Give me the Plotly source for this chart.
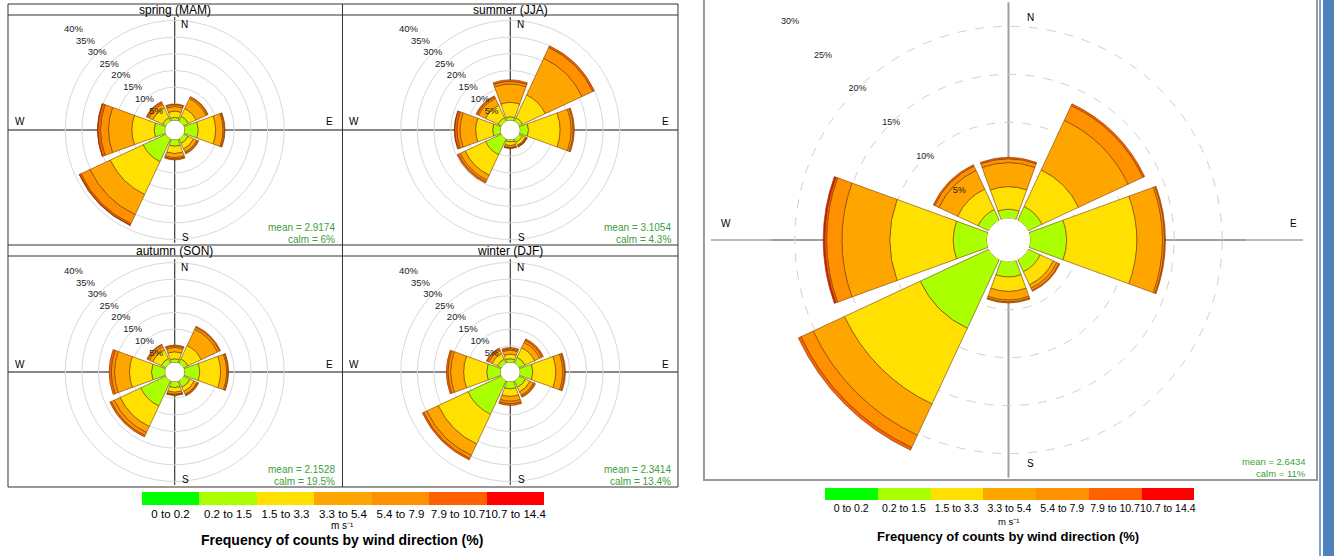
import plotly.graph_objects as go

W, H = 1336, 556

# ---------------- data ----------------
directions = ["N", "NE", "E", "SE", "S", "SW", "W", "NW"]
direction_deg = [0, 45, 90, 135, 180, 225, 270, 315]
speed_bins = ["0 to 0.2", "0.2 to 1.5", "1.5 to 3.3", "3.3 to 5.4",
              "5.4 to 7.9", "7.9 to 10.7", "10.7 to 14.4"]
bin_colors = ["#00FF00", "#AAFF00", "#FFE000", "#FFA500",
              "#FF9000", "#FF6000", "#FF0000"]

# frequency (%) per speed bin (rows) and direction (columns N..NW)
spring_freq = [
    [0, 0, 0, 0, 0, 0, 0, 0],
    [0.9, 1.7, 4.2, 1.6, 2.0, 7.6, 3.3, 1.2],
    [1.9, 2.5, 5.2, 1.8, 2.2, 10.9, 6.7, 3.2],
    [1.4, 3.3, 2.2, 1.0, 1.2, 6.7, 7.0, 1.3],
    [0.5, 0.5, 0.4, 0.4, 0.4, 3.0, 2.4, 0.5],
    [0.2, 0.2, 0.2, 0.2, 0.3, 0.5, 0.8, 0.35],
    [0, 0, 0, 0, 0, 0.1, 0.1, 0],
]
summer_freq = [
    [0, 0, 0, 0, 0, 0, 0, 0],
    [1.1, 1.2, 2.6, 1.2, 0.7, 5.3, 2.4, 1.2],
    [4.3, 7.55, 9.5, 1.0, 1.1, 6.8, 5.1, 4.1],
    [5.5, 12.15, 3.3, 0.3, 0.6, 1.6, 4.7, 2.3],
    [0.8, 3.6, 0.6, 0.2, 0.2, 0.6, 0.9, 0.5],
    [0.5, 0.5, 0.35, 0.1, 0.1, 0.4, 0.7, 0.35],
    [0, 0, 0, 0, 0, 0, 0.1, 0],
]
autumn_freq = [
    [0, 0, 0, 0, 0, 0, 0, 0],
    [1.1, 1.5, 4.6, 2.2, 1.8, 8.4, 4.1, 1.6],
    [2.1, 4.4, 6.3, 1.4, 1.4, 6.8, 6.6, 2.8],
    [1.25, 5.4, 1.8, 0.9, 0.6, 2.0, 4.5, 1.1],
    [0.45, 0.7, 0.4, 0.3, 0.25, 1.0, 0.95, 0.6],
    [0.3, 0.3, 0.2, 0.2, 0.2, 0.45, 0.65, 0.25],
    [0, 0, 0, 0, 0, 0, 0, 0],
]
winter_freq = [
    [0, 0, 0, 0, 0, 0, 0, 0],
    [1.1, 2.0, 3.9, 2.2, 2.2, 11.15, 4.2, 1.4],
    [1.4, 3.2, 6.9, 1.5, 2.25, 9.85, 6.9, 1.8],
    [1.2, 1.7, 2.1, 1.1, 1.45, 3.8, 3.9, 1.0],
    [0.4, 0.7, 0.5, 0.4, 0.7, 1.0, 0.8, 0.5],
    [0.35, 0.5, 0.3, 0.3, 0.55, 0.45, 0.5, 0.3],
    [0, 0, 0, 0, 0, 0, 0, 0],
]
annual_freq = [
    [0, 0, 0, 0, 0, 0, 0, 0],
    [0.95, 1.6, 3.8, 1.4, 1.6, 7.9, 3.5, 1.25],
    [2.35, 4.2, 7.3, 1.5, 1.5, 8.7, 6.6, 2.35],
    [2.5, 5.7, 2.7, 0.4, 0.9, 3.6, 5.0, 2.15],
    [0.4, 1.7, 0.2, 0.25, 0.2, 1.4, 1.6, 0.5],
    [0.15, 0.2, 0.1, 0.1, 0.1, 0.3, 0.2, 0.15],
    [0, 0, 0, 0, 0, 0, 0.15, 0],
]

season_titles = ["spring (MAM)", "summer (JJA)", "autumn (SON)", "winter (DJF)"]
season_means = ["2.9174", "3.1054", "2.1528", "2.3414"]
season_calms = ["6%", "4.3%", "19.5%", "13.4%"]
annual_mean = "2.6434"
annual_calm = "11%"

small_ring_ticks = [5, 10, 15, 20, 25, 30]
small_label_ticks = [5, 10, 15, 20, 25, 30, 35, 40]
big_ring_ticks = [5, 10, 15, 20]
big_label_ticks = [5, 10, 15, 20, 25, 30]

# ---------------- layout helpers ----------------
FONT = "Liberation Sans, Arial, sans-serif"
GREEN_TXT = "#3c9e3c"
EDGE = "#7a3b00"


def px(x):
    return x / W


def py(y):
    return 1 - y / H


fig = go.Figure()
shapes = []
annotations = []


def text(x, y, s, size, color="black", xanchor="center", bold=False):
    annotations.append(dict(xref="paper", yref="paper", x=px(x), y=py(y),
                            text=(f"<b>{s}</b>" if bold else s), showarrow=False,
                            xanchor=xanchor, yanchor="middle",
                            font=dict(size=size, color=color, family=FONT)))


def add_rose(freq, name, hole, rmax, ring_ticks, label_ticks, cx, cy, rad,
             gridcolor, griddash, crosscolor, crosswidth, tfs):
    for i, vals in enumerate(freq):
        fig.add_trace(go.Barpolar(
            r=vals, theta=direction_deg, width=[40] * len(vals),
            marker=dict(color=bin_colors[i], line=dict(color=EDGE, width=0.6)),
            name=speed_bins[i], showlegend=False, subplot=name,
            hovertemplate="%{theta}°: %{r}%<extra>" + speed_bins[i] + "</extra>",
        ))
    inside = [t for t in label_ticks if t <= rmax]
    outside = [t for t in label_ticks if t > rmax]
    # ring labels along the NW direction (horizontal text)
    fig.add_trace(go.Scatterpolar(
        r=inside, theta=[315] * len(inside), mode="text",
        text=[f"{t}%" for t in inside], textposition="middle center",
        textfont=dict(size=tfs, color="#222", family=FONT),
        showlegend=False, hoverinfo="skip", subplot=name))
    # labels of rings that lie beyond the drawn circle (same radial scale)
    for t in outside:
        rpx = rad * hole + t * rad * (1 - hole) / rmax
        text(cx - rpx * 0.7071, cy - rpx * 0.7071, f"{t}%", tfs, "#222")
    return dict(
        domain=dict(x=[px(cx - rad), px(cx + rad)], y=[py(cy + rad), py(cy - rad)]),
        hole=hole, bgcolor="rgba(0,0,0,0)", barmode="stack",
        radialaxis=dict(range=[0, rmax], tickvals=ring_ticks, showticklabels=False,
                        showline=False, ticks="", gridcolor=gridcolor,
                        griddash=griddash, gridwidth=1, layer="below traces"),
        angularaxis=dict(rotation=90, direction="clockwise",
                         tickvals=[0, 90, 180, 270], showticklabels=False,
                         ticks="", showline=False, gridcolor=crosscolor,
                         gridwidth=crosswidth, layer="below traces"),
    )


def hline(x0, x1, y, color, width):
    shapes.append(dict(type="line", xref="paper", yref="paper",
                       x0=px(x0), x1=px(x1), y0=py(y), y1=py(y),
                       line=dict(color=color, width=width)))


def vline(x, y0, y1, color, width):
    shapes.append(dict(type="line", xref="paper", yref="paper",
                       x0=px(x), x1=px(x), y0=py(y0), y1=py(y1),
                       line=dict(color=color, width=width)))


# ---------------- four seasonal roses ----------------
seasons = [spring_freq, summer_freq, autumn_freq, winter_freq]
centers = [(175, 130), (511, 130), (175, 372), (511, 372)]
panel_x = [(8, 343), (343, 679), (8, 343), (343, 679)]
panel_y = [(15, 245), (15, 245), (256, 487), (256, 487)]
strip_y = [9.5, 9.5, 250.5, 250.5]
R_SMALL = 113
layout_polars = {}
for k, freq in enumerate(seasons):
    name = "polar" if k == 0 else f"polar{k + 1}"
    cx, cy = centers[k]
    layout_polars[name] = add_rose(freq, name, 0.085, 31, small_ring_ticks,
                                   small_label_ticks, cx, cy, R_SMALL,
                                   "#d8d8d8", "solid", "#111", 1.2, 9.5)
    x0, x1 = panel_x[k]
    y0, y1 = panel_y[k]
    hline(x0, cx - R_SMALL, cy, "#111", 1.2)
    hline(cx + R_SMALL, x1, cy, "#111", 1.2)
    text(cx, strip_y[k], season_titles[k], 12)
    text(cx + 10, cy - 105, "N", 10)
    text(cx + 11, cy + 107, "S", 10)
    text(x1 - 13, cy - 8, "E", 10)
    text(x0 + 12, cy - 8, "W", 10)
    text(x1 - 5, y1 - 18, "mean = " + season_means[k], 10, GREEN_TXT, "right")
    text(x1 - 5, y1 - 6, "calm = " + season_calms[k], 10, GREEN_TXT, "right")

# frame of the seasonal panels
shapes.append(dict(type="rect", xref="paper", yref="paper", x0=px(8), x1=px(679),
                   y0=py(487), y1=py(4), line=dict(color="#333", width=1)))
vline(343, 4, 487, "#333", 1)
hline(8, 679, 15, "#333", 1)
hline(8, 679, 245, "#333", 1)
hline(8, 679, 256, "#333", 1)

# ---------------- annual rose ----------------
BCX, BCY, R_BIG = 1010, 240, 238
layout_polars["polar5"] = add_rose(annual_freq, "polar5", 0.091, 22.5,
                                   big_ring_ticks, big_label_ticks,
                                   BCX, BCY, R_BIG, "#d0d0d0", "dash", "#a0a0a0", 1.5, 9)
hline(712, BCX - R_BIG, BCY, "#a0a0a0", 1.5)
hline(BCX + R_BIG, 1305, BCY, "#a0a0a0", 1.5)
text(1032, 17, "N", 10)
text(1032, 463, "S", 10)
text(1295, 224, "E", 10)
text(727, 224, "W", 10)
text(1310, 461, "mean = " + annual_mean, 9.5, GREEN_TXT, "right")
text(1310, 473, "calm = " + annual_calm, 9.5, GREEN_TXT, "right")
shapes.append(dict(type="rect", xref="paper", yref="paper", x0=px(705), x1=px(1319),
                   y0=py(480), y1=py(-3), line=dict(color="#9a9a9a", width=2)))

# page border (blue)
shapes.append(dict(type="rect", xref="paper", yref="paper", x0=px(1325), x1=px(1336),
                   y0=0, y1=1, fillcolor="#4F81BD", line=dict(width=0)))
vline(1322, 0, 556, "#4F81BD", 1.5)

# ---------------- colour keys ----------------
fig.add_trace(go.Bar(x=speed_bins, y=[1] * len(speed_bins), marker=dict(
    color=bin_colors, line=dict(width=0)), xaxis="x", yaxis="y",
    showlegend=False, hoverinfo="skip"))
fig.add_trace(go.Bar(x=speed_bins, y=[1] * len(speed_bins), marker=dict(
    color=bin_colors, line=dict(width=0)), xaxis="x2", yaxis="y2",
    showlegend=False, hoverinfo="skip"))

text(343, 525, "m s⁻¹", 10)
text(343, 540, "Frequency of counts by wind direction (%)", 14, bold=True)
text(1010, 521, "m s⁻¹", 9.5)
text(1010, 536, "Frequency of counts by wind direction (%)", 13, bold=True)

key_axis = dict(showgrid=False, zeroline=False, showline=False, ticks="",
                tickangle=0, fixedrange=True)
fig.update_layout(
    width=W, height=H, autosize=False,
    margin=dict(l=0, r=0, t=0, b=0),
    paper_bgcolor="white", plot_bgcolor="rgba(0,0,0,0)",
    font=dict(family=FONT, color="black"),
    bargap=0,
    xaxis=dict(domain=[px(142), px(545)], anchor="y",
               tickfont=dict(size=11.5, family=FONT), **key_axis),
    yaxis=dict(domain=[py(505), py(492)], range=[0, 1], visible=False,
               anchor="x", fixedrange=True),
    xaxis2=dict(domain=[px(826), px(1196)], anchor="y2",
                tickfont=dict(size=10.5, family=FONT), **key_axis),
    yaxis2=dict(domain=[py(500), py(488)], range=[0, 1], visible=False,
                anchor="x2", fixedrange=True),
    shapes=shapes, annotations=annotations,
    **layout_polars,
)

fig.write_html("out.html", config={"displayModeBar": False},
               post_script="document.body.style.margin='0';")
